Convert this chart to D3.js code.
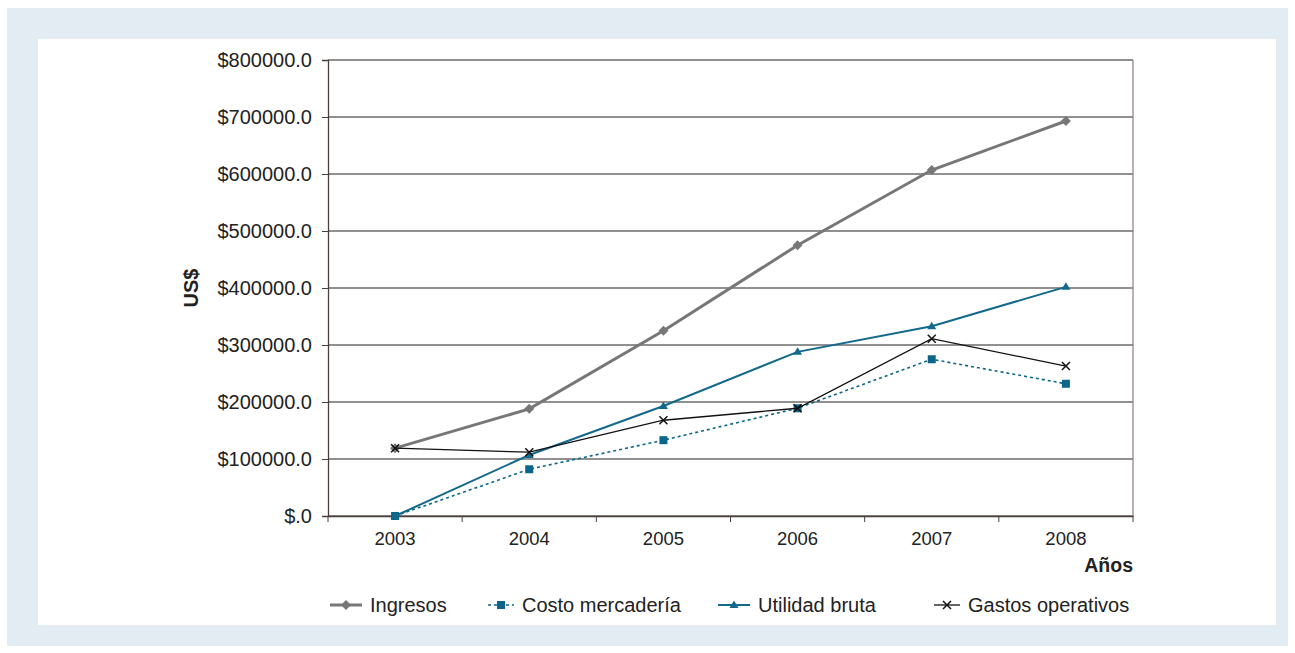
<!DOCTYPE html>
<html>
<head>
<meta charset="utf-8">
<script src="https://cdn.jsdelivr.net/npm/d3@7"></script>
<style>
  body { margin: 0; background: #fff; }
  svg { font-family: "Liberation Sans", Arial, sans-serif; }
</style>
</head>
<body>
<div id="chart"></div>
<script>
const years = ['2003', '2004', '2005', '2006', '2007', '2008'];
const ingresos = [119000, 188000, 325000, 475000, 607000, 693000];
const costoMercaderia = [0, 82000, 133000, 189000, 275000, 232000];
const utilidadBruta = [0, 107000, 193000, 288000, 333000, 402000];
const gastosOperativos = [119000, 112000, 168000, 189000, 311000, 263000];
const yTicks = [0, 100000, 200000, 300000, 400000, 500000, 600000, 700000, 800000];

const series = [
  { name: 'Ingresos', values: ingresos, color: '#777777', width: 3, dash: null, marker: 'diamond' },
  { name: 'Costo mercadería', values: costoMercaderia, color: '#0b6689', width: 1.6, dash: '3,3', marker: 'square' },
  { name: 'Utilidad bruta', values: utilidadBruta, color: '#12698c', width: 2, dash: null, marker: 'triangle' },
  { name: 'Gastos operativos', values: gastosOperativos, color: '#111111', width: 1.3, dash: null, marker: 'cross' }
];

const width = 1295, height = 653;
const svg = d3.select('#chart').append('svg')
  .attr('width', width).attr('height', height);

svg.append('rect').attr('x', 7).attr('y', 8).attr('width', 1281).attr('height', 638).attr('fill', '#e3ecf3');
svg.append('rect').attr('x', 38).attr('y', 39).attr('width', 1238).attr('height', 586).attr('fill', '#ffffff');

const plotLeft = 328, plotRight = 1133, plotTop = 60, plotBottom = 516;
const x = d3.scaleBand().domain(years).range([plotLeft, plotRight]);
const y = d3.scaleLinear().domain([0, 800000]).range([plotBottom, plotTop]);

// gridlines
svg.append('g').selectAll('line').data(yTicks).enter().append('line')
  .attr('x1', plotLeft).attr('x2', plotRight)
  .attr('y1', d => y(d)).attr('y2', d => y(d))
  .attr('stroke', '#222').attr('stroke-width', 1.2);

// right border
svg.append('line').attr('x1', plotRight).attr('x2', plotRight).attr('y1', plotTop).attr('y2', plotBottom)
  .attr('stroke', '#8a7f7a').attr('stroke-width', 1.2);

// y axis
const yAxis = svg.append('g').attr('transform', `translate(${plotLeft},0)`)
  .call(d3.axisLeft(y).tickValues(yTicks).tickSize(6).tickPadding(10)
    .tickFormat(d => '$' + (d === 0 ? '' : d) + '.0'));
yAxis.attr('font-family', null);
yAxis.select('.domain').attr('stroke', '#4a3f3a').attr('stroke-width', 1.3);
yAxis.selectAll('.tick line').attr('stroke', '#4a3f3a');
yAxis.selectAll('text').attr('font-size', 20).attr('fill', '#222');

// x axis
const xAxis = svg.append('g').attr('transform', `translate(0,${plotBottom})`)
  .call(d3.axisBottom(x).tickSize(0).tickPadding(16));
xAxis.attr('font-family', null);
xAxis.select('.domain').attr('stroke', '#4a3f3a').attr('stroke-width', 1.3);
xAxis.selectAll('text').attr('font-size', 18.5).attr('fill', '#222');
xAxis.selectAll('.sep').data(years.concat(['end'])).enter().append('line')
  .attr('class', 'sep')
  .attr('x1', (d, i) => plotLeft + i * x.bandwidth())
  .attr('x2', (d, i) => plotLeft + i * x.bandwidth())
  .attr('y1', 0).attr('y2', 6)
  .attr('stroke', '#4a3f3a');

// axis titles
svg.append('text').attr('transform', 'translate(198,288) rotate(-90)')
  .attr('text-anchor', 'middle').attr('font-size', 20).attr('font-weight', 'bold')
  .attr('fill', '#222').text('US$');
svg.append('text').attr('x', 1133).attr('y', 572).attr('text-anchor', 'end')
  .attr('font-size', 19.5).attr('font-weight', 'bold').attr('fill', '#222').text('Años');

function drawMarker(g, type, color, cx, cy) {
  if (type === 'diamond') {
    g.append('path').attr('d', `M${cx},${cy - 5}L${cx + 5},${cy}L${cx},${cy + 5}L${cx - 5},${cy}Z`)
      .attr('fill', color);
  } else if (type === 'square') {
    g.append('rect').attr('x', cx - 4).attr('y', cy - 4).attr('width', 8).attr('height', 8).attr('fill', color);
  } else if (type === 'triangle') {
    g.append('path').attr('d', `M${cx},${cy - 4.5}L${cx + 4.5},${cy + 3}L${cx - 4.5},${cy + 3}Z`)
      .attr('fill', color);
  } else {
    g.append('path').attr('d', `M${cx - 4},${cy - 4}L${cx + 4},${cy + 4}M${cx - 4},${cy + 4}L${cx + 4},${cy - 4}`)
      .attr('stroke', color).attr('stroke-width', 1.5).attr('fill', 'none');
  }
}

const line = d3.line()
  .x((d, i) => x(years[i]) + x.bandwidth() / 2)
  .y(d => y(d));

series.forEach(s => {
  const g = svg.append('g');
  g.append('path').datum(s.values).attr('d', line)
    .attr('fill', 'none').attr('stroke', s.color).attr('stroke-width', s.width)
    .attr('stroke-dasharray', s.dash);
  s.values.forEach((v, i) => {
    drawMarker(g, s.marker, s.color, x(years[i]) + x.bandwidth() / 2, y(v));
  });
});

// legend
const legendPos = [330, 488, 718, 934];
const legendLen = [32, 26, 32, 26];
series.forEach((s, i) => {
  const g = svg.append('g');
  const lx = legendPos[i], ly = 605;
  g.append('line').attr('x1', lx).attr('x2', lx + legendLen[i]).attr('y1', ly).attr('y2', ly)
    .attr('stroke', s.color).attr('stroke-width', s.width).attr('stroke-dasharray', s.dash);
  drawMarker(g, s.marker, s.color, lx + legendLen[i] / 2, ly);
  g.append('text').attr('x', lx + legendLen[i] + 8).attr('y', ly + 7)
    .attr('font-size', 20).attr('fill', '#222').text(s.name);
});
</script>
</body>
</html>
